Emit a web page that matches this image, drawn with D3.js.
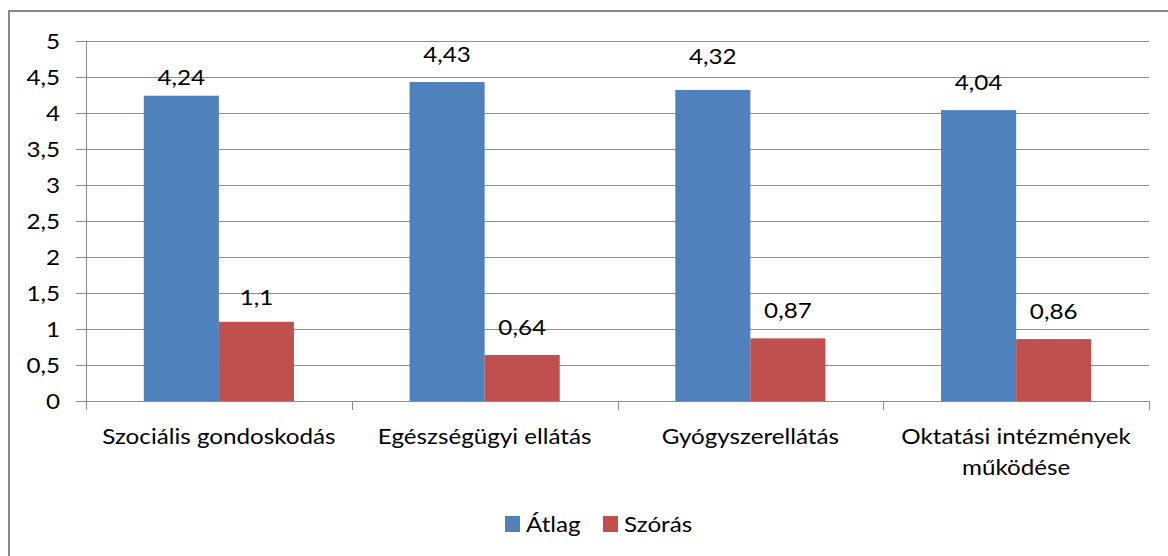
<!DOCTYPE html>
<html>
<head>
<meta charset="utf-8">
<script src="https://cdn.jsdelivr.net/npm/d3@7"></script>
<style>
  html, body { margin: 0; padding: 0; background: #fff; }
  svg { display: block; }
  text { font-family: Lato, "Open Sans", sans-serif; fill: #000; font-size: 22px; }
</style>
</head>
<body>
<svg id="chart" width="1168" height="556"></svg>
<script>
// Categories, series and axis ticks
const categories = ["Szociális gondoskodás", "Egészségügyi ellátás", "Gyógyszerellátás", "Oktatási intézmények működése"];
const seriesNames = ["Átlag", "Szórás"];
const atlag = [4.24, 4.43, 4.32, 4.04];
const szoras = [1.1, 0.64, 0.87, 0.86];
const yTicks = [0, 0.5, 1, 1.5, 2, 2.5, 3, 3.5, 4, 4.5, 5];

// Styling / layout settings
const colors = ["#4F81BD", "#C0504D"];
const atlagLabelLift = [11, 20, 26, 20];   // gap between bar top and value label baseline
const szorasLabelLift = [17, 20, 20, 20];
const textStretch = 1.1;                   // horizontal widening of all chart text

const huLocale = d3.formatLocale({ decimal: ",", thousands: " ", grouping: [3], currency: ["", " Ft"] });
const fmt = v => huLocale.format("~g")(v);

const svg = d3.select("#chart");
const plot = { left: 86, right: 1149, top: 41, bottom: 401 };

// Places a text element inside a widened group anchored at (x, y)
function stretchedText(parent, x, y, str, anchor) {
  const g = parent.append("g").attr("transform", `translate(${x},${y}) scale(${textStretch},1)`);
  return g.append("text").attr("x", 0).attr("y", 0).attr("text-anchor", anchor || "start").text(str);
}

// Outer frame
svg.append("rect")
  .attr("x", 9).attr("y", 11)
  .attr("width", 1180).attr("height", 560)
  .attr("fill", "none").attr("stroke", "#878787").attr("stroke-width", 2);

const x = d3.scaleBand().domain(categories).range([plot.left, plot.right]).paddingInner(0).paddingOuter(0);
const xs = d3.scaleBand().domain(seriesNames).range([0, x.bandwidth()]).paddingInner(0).paddingOuter(0.77);
const y = d3.scaleLinear().domain([0, 5]).range([plot.bottom, plot.top]);

// Horizontal gridlines (extend left as tick marks)
svg.append("g").selectAll("line").data(yTicks).join("line")
  .attr("x1", plot.left - 10).attr("x2", plot.right)
  .attr("y1", d => Math.round(y(d)) + 0.5).attr("y2", d => Math.round(y(d)) + 0.5)
  .attr("stroke", "#8c8c8c").attr("stroke-width", 1);

// Y tick labels
const yLab = svg.append("g");
yTicks.forEach(t => {
  stretchedText(yLab, 60, y(t), fmt(t), "end").attr("dy", "0.36em");
});

// Bars
const rows = categories.map((c, i) => ({
  cat: c,
  values: [
    { s: seriesNames[0], v: atlag[i], j: 0, lift: atlagLabelLift[i] },
    { s: seriesNames[1], v: szoras[i], j: 1, lift: szorasLabelLift[i] }
  ]
}));
const groups = svg.append("g").selectAll("g").data(rows).join("g")
  .attr("transform", d => `translate(${x(d.cat)},0)`);

groups.selectAll("rect").data(d => d.values).join("rect")
  .attr("x", d => xs(d.s))
  .attr("width", xs.bandwidth())
  .attr("y", d => y(d.v))
  .attr("height", d => y(0) - y(d.v))
  .attr("fill", d => colors[d.j]);

// Value labels
groups.each(function (row) {
  const g = d3.select(this);
  row.values.forEach(d => {
    stretchedText(g, xs(d.s) + xs.bandwidth() / 2, y(d.v) - d.lift, fmt(d.v), "middle");
  });
});

// Axis lines
svg.append("line")
  .attr("x1", plot.left + 0.5).attr("x2", plot.left + 0.5)
  .attr("y1", plot.top).attr("y2", plot.bottom + 9)
  .attr("stroke", "#8c8c8c");
svg.append("line")
  .attr("x1", plot.left).attr("x2", plot.right)
  .attr("y1", plot.bottom + 0.5).attr("y2", plot.bottom + 0.5)
  .attr("stroke", "#8c8c8c");
const boundaries = categories.map(c => x(c)).concat([x(categories[categories.length - 1]) + x.bandwidth()]);
svg.append("g").selectAll("line").data(boundaries).join("line")
  .attr("x1", d => Math.round(d) + 0.5).attr("x2", d => Math.round(d) + 0.5)
  .attr("y1", plot.bottom).attr("y2", plot.bottom + 9)
  .attr("stroke", "#8c8c8c");

// Category labels, wrapped to the band width
const catG = svg.append("g");
categories.forEach(c => {
  const t = stretchedText(catG, x(c) + x.bandwidth() / 2, 444, "", "middle");
  const words = c.split(" ");
  const maxW = (x.bandwidth() - 20) / textStretch;
  let line = [];
  let tspan = t.append("tspan").attr("x", 0).attr("dy", 0);
  words.forEach(w => {
    line.push(w);
    tspan.text(line.join(" "));
    if (tspan.node().getComputedTextLength() > maxW && line.length > 1) {
      line.pop();
      tspan.text(line.join(" "));
      line = [w];
      tspan = t.append("tspan").attr("x", 0).attr("dy", 31).text(w);
    }
  });
});

// Legend
const legend = svg.append("g");
const legendX = [505, 603];
seriesNames.forEach((s, i) => {
  legend.append("rect")
    .attr("x", legendX[i]).attr("y", 516)
    .attr("width", 15).attr("height", 16)
    .attr("fill", colors[i]);
  stretchedText(legend, legendX[i] + 21, 532, s, "start");
});
</script>
</body>
</html>
